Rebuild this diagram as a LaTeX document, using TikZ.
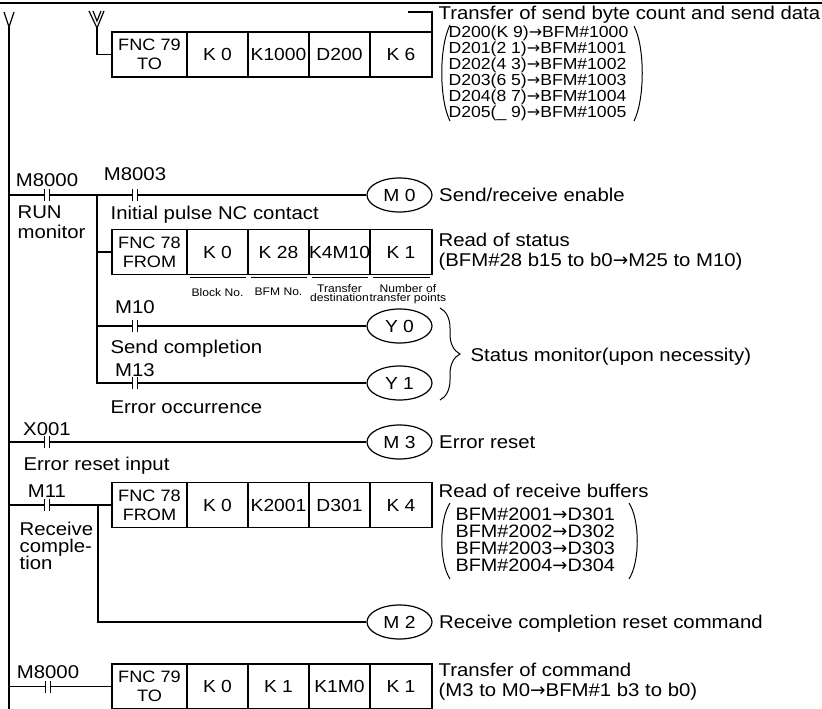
\documentclass[tikz,border=0pt]{standalone}
\usepackage{fontspec}
\setmainfont{Liberation Sans}[FakeStretch=1.1]
\newfontfamily\arrowfont{DejaVu Sans}
\usetikzlibrary{positioning, shapes.geometric, calc, decorations.pathreplacing}
\newcommand{\ladtext}{\fontsize{18.5}{20}\selectfont\lineskiplimit=-20pt\relax}
\newcommand{\ladcell}{\fontsize{17.5}{19}\selectfont}
\newcommand{\ladfnc}{\fontsize{16.5}{19}\selectfont}
\newcommand{\ladsmall}{\fontsize{11}{9.5}\selectfont\lineskiplimit=-20pt\relax}
\newcommand{\ladto}{{\arrowfont →}}
\newcommand{\drawcontact}[1]{
    \begin{scope}[shift={(#1)}]
        \fill[white] (-2.5,-4) rectangle (2.5,4);
        \draw (-2.5,-6) -- (-2.5,6);
        \draw (2.5,-6) -- (2.5,6);
    \end{scope}
}

\begin{document}
\begin{tikzpicture}[x=1pt, y=-1pt, line width=1.2pt,
    cell/.style={draw, minimum width=61, minimum height=45, inner sep=0, outer sep=0, font=\ladcell},
    fnc/.style={cell, minimum width=75, align=center, font=\ladfnc},
    coil/.style={draw, ellipse, minimum width=65, minimum height=34, inner sep=0, font=\ladcell},
    tag/.style={inner sep=0, font=\ladtext},
    note/.style={inner sep=0, align=left, font=\ladtext},
    fieldtag/.style={inner sep=0, align=center, font=\ladsmall},
    sendlist/.style={note, font={\fontsize{16}{16}\selectfont\lineskiplimit=-20pt\relax}},
    recvlist/.style={note, font={\fontsize{18}{17}\selectfont\lineskiplimit=-20pt\relax}},
    paren/.style={line width=1pt}
]
\useasboundingbox (0,0) rectangle (822,709);

% Top frame line and left power rail
\draw (0,3) -- (822,3);
\coordinate (railtop) at (9,27);
\coordinate (railbot) at (9,709);
\draw (4,12) -- (railtop) -- (14,12);
\draw (railtop) -- (railbot);

% TO instruction (send data) - fed from continuation mark
\node[fnc] (to1) at (149.5,54.5) {FNC 79\\TO};
\node[cell, right=0pt of to1] (to1k0) {K 0};
\node[cell, right=0pt of to1k0] (to1bfm) {K1000};
\node[cell, right=0pt of to1bfm] (to1src) {D200};
\node[cell, right=0pt of to1src, minimum width=62] (to1n) {K 6};
\coordinate (wtip) at (97,28);
\draw (89,11) -- (wtip) -- (104,11);
\draw (93,11) -- (97,21) -- (101,11);
\draw (wtip) |- (to1.west);
\coordinate (note1) at (408,12);
\draw (note1) -| (to1n.north east);

\node[tag, anchor=base west] (sendnote) at (438,20) {Transfer of send byte count and send data};
\node[sendlist, anchor=north west] (senddata) at (448,25)
  {D200(K 9)\ladto BFM\#1000\\D201(2 1)\ladto BFM\#1001\\D202(4 3)\ladto BFM\#1002\\D203(6 5)\ladto BFM\#1003\\D204(8 7)\ladto BFM\#1004\\D205(\_ 9)\ladto BFM\#1005};
\draw[paren] (450,25) .. controls (439,47) and (439,99) .. (450,121);
\draw[paren] (634,26) .. controls (645,47) and (645,99) .. (634,121);

% RUN monitor rung with branch
\node[coil] (m0) at (399.5,195) {M 0};
\node[coil] (y0) at (399.5,326) {Y 0};
\node[coil] (y1) at (399.5,383) {Y 1};
\node[fnc] (from1) at (149.5,252) {FNC 78\\FROM};
\node[cell, right=0pt of from1] (from1k0) {K 0};
\node[cell, right=0pt of from1k0] (from1bfm) {K 28};
\node[cell, right=0pt of from1bfm] (from1dst) {K4M10};
\node[cell, right=0pt of from1dst, minimum width=62] (from1n) {K 1};

\coordinate (br1) at (97,195);
\draw (railtop |- m0.west) -- (m0.west);
\draw (br1) -- (br1 |- y1.west) -- (y1.west);
\draw (br1 |- from1.west) -- (from1.west);
\draw (br1 |- y0.west) -- (y0.west);

\coordinate (cm8000) at (47,195);
\coordinate (cm8003) at (135,195);
\coordinate (cm10) at (135,326);
\coordinate (cm13) at (135,383);
\drawcontact{cm8000}
\drawcontact{cm8003}
\drawcontact{cm10}
\drawcontact{cm13}
\node[tag, anchor=base] (lm8000) at ([yshift=9pt]cm8000) {M8000};
\node[tag, anchor=base] (lm8003) at ([yshift=15pt]cm8003) {M8003};
\node[tag, anchor=base] (lm10) at ([yshift=13pt]cm10) {M10};
\node[tag, anchor=base] (lm13) at ([yshift=7pt]cm13) {M13};

\node[note, anchor=north west] (runnote) at (17,205) {RUN\\monitor};
\node[tag, anchor=base west] (pulsenote) at (110,219) {Initial pulse NC contact};
\node[tag, anchor=base west] (sendcomp) at (110,353) {Send completion};
\node[tag, anchor=base west] (errocc) at (110,413) {Error occurrence};
\node[tag, anchor=base west] (m0note) at ([xshift=6pt, yshift=-6pt]m0.east) {Send/receive enable};
\node[note, anchor=north west] (statnote) at ([xshift=6pt, yshift=-3pt]from1n.north east)
  {Read of status\\(BFM\#28 b15 to b0\ladto M25 to M10)};

% Field names under the FROM instruction
\foreach \c in {from1k0, from1bfm, from1dst, from1n} {
    \draw[line width=0.8pt] ([xshift=2.5pt, yshift=-3pt]\c.south west) -- ([xshift=-2.5pt, yshift=-3pt]\c.south east);
}
\node[fieldtag, anchor=north] (blockno) at ([yshift=-13pt]from1k0.south) {Block No.};
\node[fieldtag, anchor=north] (bfmno) at ([yshift=-13pt]from1bfm.south) {BFM No.};
\node[fieldtag, anchor=north] (dstno) at ([yshift=-9pt]from1dst.south) {Transfer\\destination};
\node[fieldtag, anchor=north west] (pointno) at ([xshift=-1pt, yshift=-9pt]from1n.south west) {Number of\\transfer points};

% Status monitor brace
\draw[line width=1pt, decorate, decoration={brace, amplitude=20pt}] (440,308) -- (440,400);
\node[tag, anchor=base west] (statusmon) at (470,361) {Status monitor(upon necessity)};

% Error reset rung
\node[coil] (m3) at (399.5,442) {M 3};
\draw (railtop |- m3.west) -- (m3.west);
\coordinate (cx001) at (47,442);
\drawcontact{cx001}
\node[tag, anchor=base] (lx001) at ([yshift=7pt]cx001) {X001};
\node[tag, anchor=base west] (errinput) at (23,470) {Error reset input};
\node[tag, anchor=base west] (m3note) at ([xshift=6pt, yshift=-6pt]m3.east) {Error reset};

% Receive completion rung
\node[fnc] (from2) at (149.5,505) {FNC 78\\FROM};
\node[cell, right=0pt of from2] (from2k0) {K 0};
\node[cell, right=0pt of from2k0] (from2bfm) {K2001};
\node[cell, right=0pt of from2bfm] (from2dst) {D301};
\node[cell, right=0pt of from2dst, minimum width=62] (from2n) {K 4};
\node[coil] (m2) at (399.5,622) {M 2};
\draw (railtop |- from2.west) -- (from2.west);
\coordinate (br2) at (98,505);
\draw (br2) |- (m2.west);
\coordinate (cm11) at (47,505);
\drawcontact{cm11}
\node[tag, anchor=base] (lm11) at ([yshift=8pt]cm11) {M11};
\node[note, anchor=north west, font={\fontsize{18.5}{17}\selectfont\lineskiplimit=-20pt\relax}] (recvnote) at (19,521) {Receive\\comple-\\tion};
\node[tag, anchor=base west] (recvtitle) at (438,497) {Read of receive buffers};
\node[recvlist, anchor=north west] (recvdata) at (455,507)
  {BFM\#2001\ladto D301\\BFM\#2002\ladto D302\\BFM\#2003\ladto D303\\BFM\#2004\ladto D304};
\draw[paren] (450,503) .. controls (439,520) and (439,562) .. (450,579);
\draw[paren] (629,503) .. controls (640,520) and (640,562) .. (629,579);
\node[tag, anchor=base west] (m2note) at ([xshift=6pt, yshift=-6pt]m2.east) {Receive completion reset command};

% Command transfer rung
\node[fnc] (to2) at (149.5,686.5) {FNC 79\\TO};
\node[cell, right=0pt of to2] (to2k0) {K 0};
\node[cell, right=0pt of to2k0] (to2bfm) {K 1};
\node[cell, right=0pt of to2bfm] (to2src) {K1M0};
\node[cell, right=0pt of to2src, minimum width=62] (to2n) {K 1};
\draw (railtop |- to2.west) -- (to2.west);
\coordinate (cm8000b) at (48,687);
\drawcontact{cm8000b}
\node[tag, anchor=base] (lm8000b) at ([yshift=9pt]cm8000b) {M8000};
\node[note, anchor=north west] (cmdnote) at ([xshift=6pt, yshift=2pt]to2n.north east)
  {Transfer of command\\(M3 to M0\ladto BFM\#1 b3 to b0)};

\end{tikzpicture}
\end{document}
